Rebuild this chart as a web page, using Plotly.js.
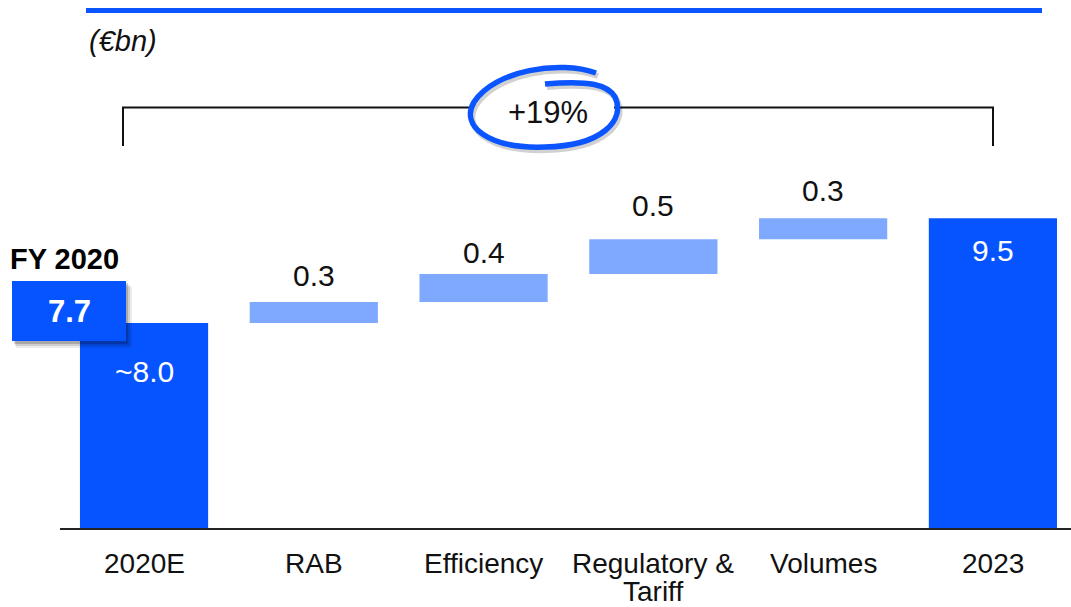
<!DOCTYPE html>
<html>
<head>
<meta charset="utf-8">
<script src="https://cdn.plot.ly/plotly-3.0.1.min.js"></script>
<style>
  html, body { margin: 0; padding: 0; background: #ffffff; }
  #chart { width: 1071px; height: 607px; }
</style>
</head>
<body>
<div id="chart"></div>
<script>
// ---- Data ----
const categories = ['2020E', 'RAB', 'Efficiency', 'Regulatory &<br>Tariff', 'Volumes', '2023'];
const measures = ['absolute', 'relative', 'relative', 'relative', 'relative', 'total'];
const values = [8.0, 0.3, 0.4, 0.5, 0.3, null];
const valueLabels = ['~8.0', '0.3', '0.4', '0.5', '0.3', '9.5'];
const fyLabel = 'FY 2020';
const fyValue = '7.7';
const unitLabel = '(€bn)';
const growthLabel = '+19%';

// ---- Styles ----
const DARK = '#0654FF';
const LIGHT = '#7FA8FF';
const FONT = 'Liberation Sans, Arial, sans-serif';
const labelOffsets = [-49, 27, 22, 34, 28, -32]; // pixel offsets from bar tops

// layout geometry
const W = 1071, H = 607, ML = 60, MR = 0, MT = 0, MB = 79;
const PW = W - ML - MR, PH = H - MT - MB;
const px = x => (x - ML) / PW;
const py = y => (H - MB - y) / PH;

// cumulative tops for labels
const tops = [];
let run = 0;
values.forEach((v, i) => {
  if (measures[i] === 'absolute') run = v;
  else if (measures[i] === 'relative') run += v;
  tops.push(run);
});

const trace = {
  type: 'waterfall',
  x: categories,
  y: values,
  measure: measures,
  width: 0.755,
  textposition: 'none',
  connector: { visible: false },
  increasing: { marker: { color: LIGHT } },
  decreasing: { marker: { color: LIGHT } },
  totals: { marker: { color: DARK } },
  hoverinfo: 'skip',
  showlegend: false
};

const annotations = categories.map((c, i) => ({
  x: i, y: tops[i], xref: 'x', yref: 'y',
  text: valueLabels[i],
  showarrow: false,
  yshift: labelOffsets[i],
  xanchor: 'center', yanchor: 'middle',
  font: { family: FONT, size: 30, color: (measures[i] === 'relative') ? '#111111' : '#ffffff' }
}));

// category labels (drawn per line for tighter line spacing)
categories.forEach((c, i) => {
  c.split('<br>').forEach((line, k) => {
    annotations.push({
      x: i, xref: 'x', yref: 'paper', y: py(563 + 28 * k),
      text: line, showarrow: false, xanchor: 'center', yanchor: 'middle',
      borderpad: 0,
      font: { family: FONT, size: 28, color: '#111111' }
    });
  });
});

annotations.push(
  { xref: 'paper', yref: 'paper', x: px(87), y: py(41), xanchor: 'left', yanchor: 'middle',
    text: '<i>' + unitLabel + '</i>', showarrow: false,
    font: { family: FONT, size: 29, color: '#111111' } },
  { xref: 'paper', yref: 'paper', x: px(548), y: py(113), xanchor: 'center', yanchor: 'middle',
    text: growthLabel, showarrow: false,
    font: { family: FONT, size: 31, color: '#111111' } },
  { xref: 'paper', yref: 'paper', x: px(64.5), y: py(259), xanchor: 'center', yanchor: 'middle',
    text: '<b>' + fyLabel + '</b>', showarrow: false,
    font: { family: FONT, size: 29, color: '#000000' } },
  { xref: 'paper', yref: 'paper', x: px(69), y: py(312), xanchor: 'center', yanchor: 'middle',
    text: '<b>' + fyValue + '</b>', showarrow: false,
    font: { family: FONT, size: 31, color: '#ffffff' } }
);

function pathFrom(cmds) {
  return cmds.map(c => {
    const [op, ...pts] = c;
    const out = [];
    for (let k = 0; k < pts.length; k += 2) out.push(px(pts[k]) + ',' + py(pts[k + 1]));
    return op + out.join(' ');
  }).join(' ');
}
const spiral = [
  ['M', 596, 73],
  ['C', 560, 60, 495, 70, 474, 102],
  ['C', 460, 126, 488, 149, 545, 147],
  ['C', 602, 146, 626, 120, 615, 97],
  ['C', 608, 85, 590, 80, 545, 84]
];
const spiralShadow = spiral.map(c => [c[0], ...c.slice(1).map((v, k) => v + (k % 2 === 0 ? 2 : 3))]);

const shapes = [
  // top rule
  { type: 'line', xref: 'paper', yref: 'paper', x0: px(86), x1: px(1042), y0: py(10.5), y1: py(10.5),
    line: { color: '#0A55FF', width: 5 } },
  // bracket
  { type: 'line', xref: 'paper', yref: 'paper', x0: px(123), x1: px(123), y0: py(146), y1: py(107.5),
    line: { color: '#111111', width: 2 } },
  { type: 'line', xref: 'paper', yref: 'paper', x0: px(993), x1: px(993), y0: py(146), y1: py(107.5),
    line: { color: '#111111', width: 2 } },
  { type: 'line', xref: 'paper', yref: 'paper', x0: px(122), x1: px(473), y0: py(107.5), y1: py(107.5),
    line: { color: '#111111', width: 2 } },
  { type: 'line', xref: 'paper', yref: 'paper', x0: px(614), x1: px(994), y0: py(107.5), y1: py(107.5),
    line: { color: '#111111', width: 2 } },
  // spiral shadow + spiral
  { type: 'path', xref: 'paper', yref: 'paper', path: pathFrom(spiralShadow),
    line: { color: 'rgba(0,0,0,0.18)', width: 6 } },
  { type: 'path', xref: 'paper', yref: 'paper', path: pathFrom(spiral),
    line: { color: '#0A55FF', width: 5.5 } },
  // 7.7 box shadow layers
  { type: 'rect', xref: 'paper', yref: 'paper', x0: px(16), x1: px(132), y0: py(287), y1: py(348),
    line: { width: 0 }, fillcolor: 'rgba(0,0,0,0.08)' },
  { type: 'rect', xref: 'paper', yref: 'paper', x0: px(15), x1: px(130), y0: py(285), y1: py(346),
    line: { width: 0 }, fillcolor: 'rgba(0,0,0,0.12)' },
  { type: 'rect', xref: 'paper', yref: 'paper', x0: px(14), x1: px(128), y0: py(283), y1: py(344),
    line: { width: 0 }, fillcolor: 'rgba(0,0,0,0.18)' },
  // 7.7 box
  { type: 'rect', xref: 'paper', yref: 'paper', x0: px(12), x1: px(126), y0: py(281), y1: py(341),
    line: { width: 0 }, fillcolor: DARK }
];

const layout = {
  width: W, height: H,
  margin: { l: ML, r: MR, t: MT, b: MB, pad: 0 },
  paper_bgcolor: '#ffffff', plot_bgcolor: '#ffffff',
  showlegend: false,
  xaxis: {
    type: 'category',
    range: [-0.495, 5.46],
    showline: true, linecolor: '#222222', linewidth: 2,
    ticks: '', showgrid: false, zeroline: false,
    showticklabels: false
  },
  yaxis: {
    range: [5.063, 12.627],
    visible: false, showgrid: false, zeroline: false
  },
  annotations: annotations,
  shapes: shapes
};

Plotly.newPlot('chart', [trace], layout, { displayModeBar: false, staticPlot: true });
</script>
</body>
</html>
